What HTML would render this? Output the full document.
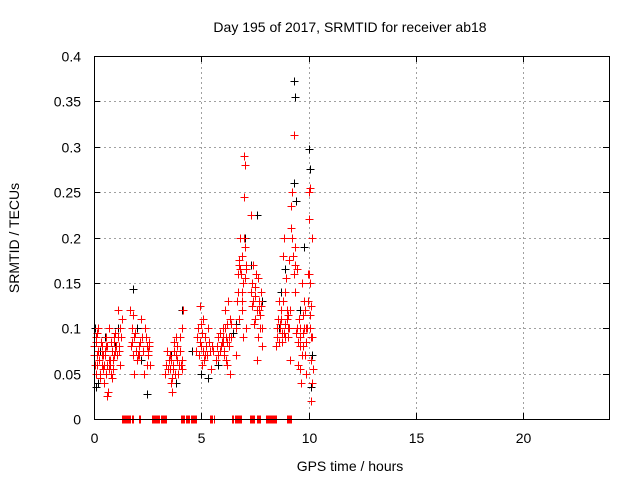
<!DOCTYPE html>
<html><head><meta charset="utf-8"><style>
body{margin:0;background:#fff}
svg{display:block;font-family:"Liberation Sans",sans-serif}
</style></head><body>
<svg id="chart" width="640" height="480" viewBox="0 0 640 480">
<rect width="640" height="480" fill="#fff"/>
<text x="350" y="32" font-size="14" text-anchor="middle">Day 195 of 2017, SRMTID for receiver ab18</text>
<text transform="translate(19,238) rotate(-90)" font-size="14" text-anchor="middle">SRMTID / TECUs</text>
<text x="350" y="471" font-size="14" text-anchor="middle">GPS time / hours</text>
<g id="grid"></g><g id="ticks"></g><g id="black"></g><g id="red"></g><g id="zeros"></g>
<rect x="94.5" y="56.5" width="515" height="363" fill="none" stroke="#000" stroke-width="1"/>
</svg>
<script>
const xTicks=[0,5,10,15,20];
const yTicks=[0,0.05,0.1,0.15,0.2,0.25,0.3,0.35,0.4];
const yTickLabels=["0","0.05","0.1","0.15","0.2","0.25","0.3","0.35","0.4"];
const redT=[0.0,0.05,0.1,0.1,0.15,0.2,0.25,0.3,0.35,0.4,0.45,0.5,0.55,0.6,0.65,0.7,0.75,0.8,0.85,0.9,0.95,1.0,1.05,1.1,1.15,1.2,1.25,1.3,0.6,
1.7,1.75,1.8,1.85,1.9,2.0,2.1,2.2,2.3,2.35,2.4,2.5,2.55,2.6,
3.3,3.4,3.5,3.6,3.7,3.75,3.8,3.9,4.0,4.05,4.1,4.15,3.65,
4.75,4.85,4.95,5.0,5.05,5.1,5.15,5.25,5.35,5.45,5.55,
5.7,5.8,5.9,6.0,6.05,6.1,6.15,6.2,6.25,6.3,6.4,6.35,
6.6,6.7,6.75,6.8,6.85,6.9,6.95,7.0,7.0,7.05,7.05,7.1,7.1,6.95,
7.3,7.35,7.4,7.5,7.55,7.6,7.65,7.7,7.75,7.8,7.85,
8.5,8.55,8.6,8.7,8.75,8.8,8.85,8.9,8.95,9.0,9.05,9.1,9.15,9.2,9.25,9.3,9.35,9.35,9.4,
9.45,9.5,9.55,9.6,9.65,9.7,9.75,9.8,9.85,9.9,9.95,10.0,10.0,10.05,10.05,10.1,10.1,10.15,10.2,10.1,10.15,
0.02,0.08,0.12,0.18,0.22,0.28,0.33,0.38,0.42,0.48,0.52,0.58,0.62,0.68,0.72,0.78,0.82,0.88,0.92,0.98,1.02,1.08,1.12,1.18,1.22,0.15,0.35,0.55,0.75,0.95,
1.72,1.78,1.88,1.95,2.05,2.15,2.25,2.28,2.38,2.45,2.48,2.52,2.58,1.82,2.12,
3.35,3.45,3.52,3.58,3.62,3.68,3.72,3.78,3.85,3.88,3.95,4.02,4.08,4.12,3.55,3.82,
4.8,4.9,4.98,5.02,5.08,5.12,5.2,5.3,5.4,5.5,4.92,5.18,
5.72,5.78,5.85,5.95,6.02,6.08,6.12,6.18,6.22,6.28,6.32,6.38,5.88,6.02,6.15,
6.62,6.68,6.72,6.78,6.82,6.88,6.92,6.98,7.02,7.08,6.78,6.9,
7.32,7.38,7.42,7.48,7.52,7.58,7.62,7.68,7.72,7.78,7.82,7.45,
8.52,8.58,8.62,8.68,8.72,8.78,8.82,8.88,8.92,8.98,9.02,9.08,9.12,9.18,9.22,9.28,9.32,9.38,8.65,8.85,9.05,
9.48,9.52,9.58,9.62,9.68,9.72,9.78,9.82,9.88,9.92,9.98,10.02,10.08,10.12,10.18,9.6,9.75,9.9,10.05];
const redV=[0.08,0.06,0.09,0.05,0.07,0.1,0.065,0.045,0.08,0.055,0.04,0.07,0.09,0.06,0.03,0.1,0.065,0.05,0.075,0.055,0.085,0.095,0.07,0.12,0.08,0.06,0.09,0.11,0.025,
0.12,0.085,0.07,0.05,0.095,0.065,0.08,0.11,0.075,0.05,0.09,0.07,0.085,0.06,
0.05,0.075,0.065,0.04,0.055,0.085,0.07,0.05,0.09,0.06,0.1,0.12,0.03,
0.075,0.1,0.125,0.08,0.06,0.11,0.09,0.07,0.085,0.055,0.075,
0.065,0.09,0.08,0.1,0.07,0.12,0.09,0.06,0.13,0.08,0.105,0.05,
0.07,0.14,0.17,0.2,0.16,0.12,0.15,0.245,0.29,0.28,0.19,0.165,0.1,0.09,
0.225,0.15,0.13,0.11,0.16,0.065,0.09,0.12,0.1,0.14,0.08,
0.08,0.1,0.13,0.11,0.085,0.18,0.2,0.09,0.155,0.12,0.1,0.175,0.065,0.235,0.25,0.313,0.19,0.14,0.095,
0.165,0.06,0.11,0.08,0.04,0.15,0.095,0.13,0.07,0.1,0.16,0.22,0.25,0.255,0.115,0.09,0.065,0.2,0.055,0.02,0.04,
0.07,0.085,0.06,0.075,0.065,0.05,0.085,0.06,0.07,0.06,0.075,0.05,0.08,0.065,0.055,0.085,0.045,0.065,0.09,0.075,0.08,0.07,0.09,0.075,0.1,0.095,0.07,0.08,0.06,0.07,
0.08,0.1,0.09,0.075,0.07,0.085,0.09,0.075,0.1,0.08,0.06,0.075,0.08,0.115,0.07,
0.06,0.055,0.07,0.065,0.045,0.06,0.075,0.05,0.065,0.08,0.06,0.075,0.055,0.065,0.055,0.09,
0.09,0.07,0.105,0.095,0.075,0.065,0.08,0.1,0.075,0.08,0.085,0.07,
0.08,0.07,0.095,0.085,0.09,0.075,0.1,0.085,0.105,0.09,0.11,0.09,0.075,0.085,0.065,
0.1,0.13,0.16,0.175,0.165,0.14,0.18,0.2,0.155,0.17,0.11,0.13,
0.14,0.125,0.17,0.135,0.145,0.12,0.155,0.13,0.115,0.125,0.1,0.105,
0.09,0.11,0.085,0.1,0.12,0.095,0.13,0.105,0.14,0.11,0.09,0.1,0.12,0.21,0.2,0.18,0.16,0.17,0.105,0.095,0.115,
0.1,0.085,0.1,0.09,0.07,0.115,0.1,0.12,0.085,0.1,0.13,0.16,0.1,0.125,0.09,0.055,0.08,0.05,0.15];
const blackT=[0.05,0.2,0.3,0.9,1.1,2.0,1.8,2.45,3.8,4.1,4.55,5.3,6.5,7.05,7.3,7.6,7.85,8.6,9.3,9.35,9.3,9.4,10.0,10.05,9.8,10.15,8.9,0.1,0.5,1.0,2.2,3.6,5.0,5.8,6.6,8.7,9.6,10.1];
const blackV=[0.1,0.04,0.075,0.065,0.1,0.1,0.143,0.027,0.04,0.12,0.075,0.045,0.095,0.2,0.17,0.225,0.13,0.1,0.372,0.355,0.26,0.24,0.298,0.275,0.19,0.07,0.165,0.035,0.09,0.08,0.065,0.07,0.05,0.06,0.105,0.14,0.12,0.035];
const zeroT=[1.3,1.35,1.4,1.45,1.5,1.55,1.6,1.65,1.7,1.75,1.8,2.1,2.15,2.7,2.75,2.8,2.85,2.9,2.95,3.0,3.05,3.1,3.15,3.2,3.25,3.3,3.35,4.05,4.1,4.15,4.2,4.3,4.35,4.4,4.45,4.5,4.55,4.6,4.65,4.7,4.75,5.4,5.45,5.5,5.6,6.45,6.5,6.55,6.6,6.65,6.7,6.75,6.8,6.85,7.25,7.3,7.35,7.4,7.45,7.6,7.65,7.7,7.75,8.0,8.05,8.1,8.15,8.2,8.25,8.3,8.35,8.4,8.45,8.5,9.0,9.05,9.1,9.15,9.2];
const zeroV=zeroT.map(()=>0);
const X0=94,X1=609,Y0=419,Y1=56;
const xs=t=>X0+t/24*(X1-X0);
const ys=v=>Y0-v/0.4*(Y0-Y1);
const NS="http://www.w3.org/2000/svg";
function mk(tag,attrs,parent){const e=document.createElementNS(NS,tag);for(const k in attrs)e.setAttribute(k,attrs[k]);parent.appendChild(e);return e;}
const grid=document.getElementById('grid'),ticks=document.getElementById('ticks');
xTicks.forEach(t=>{const x=Math.round(xs(t))+0.5;
 if(t>0){const g=mk('line',{x1:x,x2:x,y1:Y0,y2:Y1,stroke:'#a0a0a0','stroke-dasharray':'2,3'},grid);
 
 }
 mk('line',{x1:x,x2:x,y1:Y0,y2:Y0-6,stroke:'#000'},ticks);mk('line',{x1:x,x2:x,y1:Y1,y2:Y1+6,stroke:'#000'},ticks);
 const l=mk('text',{x:x,y:443,'font-size':14,'text-anchor':'middle'},ticks);l.textContent=t;
 
 });
yTicks.forEach((v,i)=>{const y=Math.round(ys(v))+0.5;
 if(v>0&&v<0.4){const g=mk('line',{x1:X0,x2:X1,y1:y,y2:y,stroke:'#a0a0a0','stroke-dasharray':'2,3'},grid);
 
 }
 mk('line',{x1:X0,x2:X0+6,y1:y,y2:y,stroke:'#000'},ticks);mk('line',{x1:X1,x2:X1-6,y1:y,y2:y,stroke:'#000'},ticks);
 const l=mk('text',{x:81,y:y+5,'font-size':14,'text-anchor':'end'},ticks);l.textContent=yTickLabels[i];
 
 });
function plus(g,t,v,c,name){const x=Math.round(xs(t))+0.5,y=Math.round(ys(v))+0.5;
 const p=mk('path',{d:`M${x-4},${y}h8M${x},${y-4}v8`,stroke:c,'stroke-width':1,fill:'none','shape-rendering':'crispEdges'},g);
 
 }
blackT.forEach((t,i)=>plus(document.getElementById('black'),t,blackV[i],'#000','black-point'));
redT.forEach((t,i)=>plus(document.getElementById('red'),t,redV[i],'#ff0000','red-point'));
zeroT.forEach((t,i)=>plus(document.getElementById('zeros'),t,zeroV[i],'#ff0000','zero-point'));
</script>
</body></html>
